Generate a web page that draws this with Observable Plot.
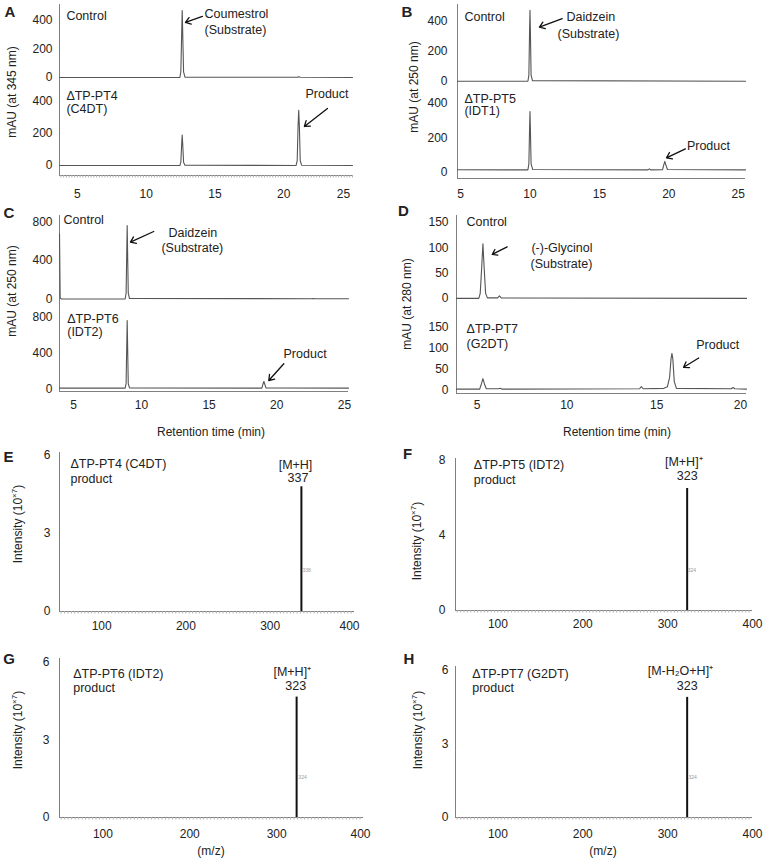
<!DOCTYPE html>
<html><head><meta charset="utf-8">
<script src="https://cdn.jsdelivr.net/npm/d3@7"></script>
<script src="https://cdn.jsdelivr.net/npm/@observablehq/plot@0.6"></script>
<style>
body{margin:0;background:#fff;}
#fig{position:relative;width:769px;height:864px;background:#fff;font-family:"Liberation Sans",Arial,sans-serif;color:#222;overflow:hidden}
.abs{position:absolute}
.lbl{position:absolute;transform:translate(-50%,-50%);white-space:nowrap;font-size:12px;line-height:1}
.rot{transform:translate(-50%,-50%) rotate(-90deg)}
.letter{font-weight:bold;font-size:15px}
sup{font-size:8px;vertical-align:5px;line-height:0}
</style></head><body><div id="fig"></div>
<script>
// ---------------- DATA ----------------
// Panel A: coumestrol, 345 nm  [time (min), mAU]
const aControl = [[3.7,0],[12.45,0],[12.52,40],[12.58,300],[12.62,470],[12.66,300],[12.72,40],[12.82,3],[21.0,2],[21.1,6],[21.2,2],[25,0]];
const aPT4 = [[3.7,0],[12.45,0],[12.52,20],[12.58,130],[12.62,190],[12.66,130],[12.72,20],[12.82,2],[20.9,0],[20.98,30],[21.04,240],[21.09,345],[21.14,240],[21.2,30],[21.3,2],[25,0]];
const aControlNotes = [{x:4.2,y:428,text:"Control"},{x:14.24,y:442,text:"Coumestrol"},{x:14.24,y:330,text:"(Substrate)"}];
const aPT4Notes = [{x:4.2,y:437,text:"ΔTP-PT4"},{x:4.2,y:350,text:"(C4DT)"},{x:21.58,y:444,text:"Product"}];
const aControlArrows = [{x1:14.09,y1:428,x2:12.86,y2:386}];
const aPT4Arrows = [{x1:23.18,y1:356,x2:21.5,y2:244}];

// Panel B: daidzein, 250 nm
const bControl = [[4.78,0],[9.85,0],[9.92,40],[9.97,330],[10.0,470],[10.03,330],[10.08,40],[10.18,4],[25.52,0]];
const bPT5 = [[4.78,16],[9.85,15],[9.92,50],[9.97,250],[10.0,354],[10.03,250],[10.08,50],[10.2,17],[18.5,15],[18.6,21],[18.7,15],[19.55,16],[19.62,40],[19.71,64],[19.8,40],[19.9,17],[25.52,15]];
const bControlNotes = [{x:5.28,y:422,text:"Control"},{x:12.63,y:422,text:"Daidzein"},{x:11.98,y:314,text:"(Substrate)"}];
const bPT5Notes = [{x:5.28,y:429,text:"ΔTP-PT5"},{x:5.28,y:354,text:"(IDT1)"},{x:21.3,y:151,text:"Product"}];
const bControlArrows = [{x1:12.32,y1:414,x2:10.68,y2:358}];
const bPT5Arrows = [{x1:21.19,y1:137,x2:19.83,y2:85}];

// Panel C: daidzein, 250 nm
const cControl = [[3.95,680],[4.0,10],[4.1,0],[8.8,0],[8.87,60],[8.92,500],[8.95,766],[8.98,500],[9.03,60],[9.12,5],[22.6,3],[22.7,6],[22.8,3],[25.3,3]];
const cPT6 = [[3.95,10],[8.8,10],[8.87,60],[8.92,500],[8.95,766],[8.98,500],[9.03,60],[9.12,12],[18.9,10],[18.97,50],[19.05,84],[19.12,50],[19.2,12],[25.3,10]];
const cControlNotes = [{x:4.25,y:818,text:"Control"},{x:12.0,y:685,text:"Daidzein"},{x:11.48,y:536,text:"(Substrate)"}];
const cPT6Notes = [{x:4.52,y:785,text:"ΔTP-PT6"},{x:4.52,y:635,text:"(IDT2)"},{x:20.5,y:386,text:"Product"}];
const cControlArrows = [{x1:10.91,y1:703,x2:9.19,y2:592}];
const cPT6Arrows = [{x1:20.52,y1:282,x2:19.41,y2:95}];

// Panel D: (-)-glycinol, 280 nm
const dControl = [[3.86,0],[5.1,0],[5.18,10],[5.26,60],[5.33,108],[5.4,60],[5.48,10],[5.58,1],[6.15,1],[6.25,5],[6.35,1],[20,0]];
const dPT7 = [[3.86,2],[5.15,2],[5.25,15],[5.33,27],[5.41,15],[5.52,3],[6.2,3],[6.3,4],[6.4,2],[14.05,3],[14.15,8],[14.25,3],[15.4,4],[15.6,8],[15.72,30],[15.8,74],[15.85,87],[15.9,74],[15.98,20],[16.1,4],[19.15,3],[19.25,6],[19.35,3],[20,2]];
const dControlNotes = [{x:4.42,y:151,text:"Control"},{x:8.03,y:100,text:"(-)-Glycinol"},{x:7.98,y:69,text:"(Substrate)"}];
const dPT7Notes = [{x:4.42,y:146,text:"ΔTP-PT7"},{x:4.42,y:110,text:"(G2DT)"},{x:17.2,y:108,text:"Product"}];
const dControlArrows = [{x1:6.68,y1:102,x2:5.85,y2:87}];
const dPT7Arrows = [{x1:17.34,y1:76,x2:16.5,y2:54}];

// Mass spectra: m/z, intensity (10^7)
const eSpectrum = [{mz:337, i:4.8}];
const fSpectrum = [{mz:323, i:6.5}];
const gSpectrum = [{mz:323, i:4.65}];
const hSpectrum = [{mz:323, i:4.9}];
const eNotes = [{x:63,y:5.68,text:"ΔTP-PT4 (C4DT)"},{x:63,y:5.1,text:"product"}];
const fNotes = [{x:71.6,y:7.73,text:"ΔTP-PT5 (IDT2)"},{x:71.6,y:6.97,text:"product"}];
const gNotes = [{x:65.8,y:5.53,text:"ΔTP-PT6 (IDT2)"},{x:65.8,y:4.99,text:"product"}];
const hNotes = [{x:69.7,y:5.87,text:"ΔTP-PT7 (G2DT)"},{x:69.7,y:5.28,text:"product"}];
const ePeakNotes = [{x:330,y:5.64,text:"[M+H]"},{x:333,y:5.12,text:"337"}];
const fPeakNotes = [{x:319,y:7.9,text:"[M+H]⁺"},{x:323,y:7.15,text:"323"}];
const gPeakNotes = [{x:318,y:5.6,text:"[M+H]⁺"},{x:322,y:5.06,text:"323"}];
const hPeakNotes = [{x:315,y:5.96,text:"[M-H₂O+H]⁺"},{x:323,y:5.38,text:"323"}];
const eTiny = [{x:338.3,y:1.58,text:"338"}];
const fTiny = [{x:323.6,y:2.13,text:"324"}];
const gTiny = [{x:325,y:1.56,text:"324"}];
const hTiny = [{x:324.6,y:1.64,text:"324"}];

// Tick labels
const ticksA = [5,10,15,20,25], ticksB = [5,10,15,20,25], ticksC = [5,10,15,20,25], ticksD = [5,10,15,20];
const yTicksAB = [0,200,400], yTicksC = [0,400,800], yTicksD = [0,50,100,150];
const mzTicks = [100,200,300,400];
const yTicks6 = [0,3,6], yTicks8 = [0,4,8];

// ---------------- DRAWING ----------------
const FONT = '"Liberation Sans", Arial, sans-serif';
const AX = "#808080", TR = "#555", TXT = "#222";
const NOTE = 12.5;
const fig = document.getElementById("fig");

function place(node, x, y) {
  const d = document.createElement("div");
  d.className = "abs"; d.style.left = x + "px"; d.style.top = y + "px";
  node.style.maxWidth = "none"; node.style.overflow = "visible";
  d.appendChild(node); fig.appendChild(d);
}
function html(text, x, y, cls) {
  const d = document.createElement("div");
  d.className = "lbl " + (cls || ""); d.style.left = x + "px"; d.style.top = y + "px";
  d.innerHTML = text; fig.appendChild(d);
}

function chart(c) {
  const ml = 45, mr = 10, mt = 4, mb = c.xTicks ? 30 : 2;
  const W = c.right - c.left, H = c.bottom - c.top;
  const marks = [];
  marks.push(Plot.ruleX([c.x[0]], {stroke: AX, strokeWidth: 1}));
  if (c.xTicks) marks.push(Plot.ruleY([c.y[0]], {stroke: AX, strokeWidth: 1}));
  if (c.minor) marks.push(Plot.axisX(c.minor, {anchor: "bottom", tickSize: 2.5, stroke: "#b0b0b0", tickFormat: () => "", label: null}));
  marks.push(Plot.axisY(c.yTicks, {anchor: "left", tickSize: 0, tickPadding: c.yPad, fontSize: 12, label: null, tickFormat: d => String(d)}));
  if (c.xTicks) {
    const main = c.lastDx ? c.xTicks.slice(0, -1) : c.xTicks;
    const pad = c.xOff - 4.3;
    marks.push(Plot.axisX(main, {anchor: "bottom", tickSize: 0, tickPadding: pad, fontSize: 12, label: null, tickFormat: d => String(d)}));
    if (c.lastDx) marks.push(Plot.axisX(c.xTicks.slice(-1), {anchor: "bottom", tickSize: 0, tickPadding: pad, dx: c.lastDx, fontSize: 12, label: null, tickFormat: d => String(d)}));
  }
  if (c.trace) marks.push(Plot.line(c.trace, {x: d => d[0], y: d => d[1], stroke: TR, strokeWidth: 1.1}));
  if (c.spectrum) marks.push(Plot.ruleX(c.spectrum, {x: "mz", y1: 0, y2: "i", stroke: "#111", strokeWidth: 2}));
  if (c.notes) marks.push(Plot.text(c.notes, {x: "x", y: "y", text: "text", textAnchor: "start", fontSize: NOTE, fill: TXT}));
  if (c.peakNotes) marks.push(Plot.text(c.peakNotes, {x: "x", y: "y", text: "text", textAnchor: "middle", fontSize: NOTE, fill: TXT}));
  if (c.tiny) marks.push(Plot.text(c.tiny, {x: "x", y: "y", text: "text", textAnchor: "start", fontSize: 5, fill: "#999"}));
  if (c.arrows) marks.push(Plot.arrow(c.arrows, {x1: "x1", y1: "y1", x2: "x2", y2: "y2", stroke: "#111", strokeWidth: 1.3, headLength: 7, headAngle: 70}));
  const svg = Plot.plot({
    width: W + ml + mr, height: H + mt + mb,
    marginLeft: ml, marginRight: mr, marginTop: mt, marginBottom: mb,
    x: {domain: c.x, axis: null}, y: {domain: c.y, axis: null},
    style: {fontFamily: FONT, fontSize: "12px", color: TXT, background: "transparent", overflow: "visible"},
    marks
  });
  place(svg, c.left - ml, c.top - mt);
}

const minorA = d3.range(3.8, 25.01, 0.2);
const minorMZ = d3.range(52, 400, 4);

// A
chart({left:59,right:352,top:4,bottom:88,x:[3.7,25],y:[-77,512],yTicks:yTicksAB,yPad:7,trace:aControl,notes:aControlNotes,arrows:aControlArrows});
chart({left:59,right:352,top:88,bottom:175,x:[3.7,25],y:[-62.5,481],yTicks:yTicksAB,yPad:7,trace:aPT4,notes:aPT4Notes,arrows:aPT4Arrows,xTicks:ticksA,lastDx:-9,xOff:18,minor:minorA});
// B
chart({left:457,right:745,top:4,bottom:88,x:[4.78,25.52],y:[-48,508],yTicks:yTicksAB,yPad:10,trace:bControl,notes:bControlNotes,arrows:bControlArrows});
chart({left:457,right:745,top:88,bottom:178,x:[4.78,25.52],y:[-35,487],yTicks:yTicksAB,yPad:10,trace:bPT5,notes:bPT5Notes,arrows:bPT5Arrows,xTicks:ticksB,xOff:15});
// C
chart({left:59,right:348,top:215,bottom:303,x:[3.95,25.3],y:[-47,870],yTicks:yTicksC,yPad:7,trace:cControl,notes:cControlNotes,arrows:cControlArrows});
chart({left:59,right:348,top:303,bottom:391,x:[3.95,25.3],y:[-28,956],yTicks:yTicksC,yPad:7,trace:cPT6,notes:cPT6Notes,arrows:cPT6Arrows,xTicks:ticksC,xOff:13});
// D
chart({left:456,right:746,top:215,bottom:305,x:[3.86,20],y:[-14,164],yTicks:yTicksD,yPad:8,trace:dControl,notes:dControlNotes,arrows:dControlArrows});
chart({left:456,right:746,top:305,bottom:393,x:[3.86,20],y:[-8.3,201],yTicks:yTicksD,yPad:8,trace:dPT7,notes:dPT7Notes,arrows:dPT7Arrows,xTicks:ticksD,lastDx:-6,xOff:11});
// E-H
chart({left:59,right:354,top:452,bottom:611,x:[50,400],y:[0,6.12],yTicks:yTicks6,yPad:9,spectrum:eSpectrum,notes:eNotes,peakNotes:ePeakNotes,tiny:eTiny,xTicks:mzTicks,lastDx:-5,xOff:14,minor:minorMZ});
chart({left:455,right:752,top:458,bottom:610,x:[50,400],y:[0,8.1],yTicks:yTicks8,yPad:10,spectrum:fSpectrum,notes:fNotes,peakNotes:fPeakNotes,tiny:fTiny,xTicks:mzTicks,xOff:13.5,minor:minorMZ});
chart({left:59,right:363,top:658,bottom:817,x:[50,400],y:[0,6.14],yTicks:yTicks6,yPad:10,spectrum:gSpectrum,notes:gNotes,peakNotes:gPeakNotes,tiny:gTiny,xTicks:mzTicks,lastDx:-3,xOff:16,minor:minorMZ});
chart({left:455,right:752,top:666,bottom:817,x:[50,400],y:[0,6.16],yTicks:yTicks6,yPad:7,spectrum:hSpectrum,notes:hNotes,peakNotes:hPeakNotes,tiny:hTiny,xTicks:mzTicks,xOff:16,minor:minorMZ});

// Panel letters
[["A",10,11],["B",407,11],["C",9,212],["D",403.5,210],["E",8.5,456],["F",407.5,453],["G",9,658],["H",409,657.5]]
  .forEach(([t,x,y]) => html(t, x, y, "letter"));
// Axis titles
html("mAU (at 345 nm)", 12, 92, "rot");
html("mAU (at 250 nm)", 414, 87, "rot");
html("mAU (at 250 nm)", 12, 291, "rot");
html("mAU (at 280 nm)", 407, 304, "rot");
html("Retention time (min)", 211, 432);
html("Retention time (min)", 617, 432);
const intensity = "Intensity (10<sup>×7</sup>)";
html(intensity, 18, 524, "rot");
html(intensity, 417, 541, "rot");
html(intensity, 18, 730, "rot");
html(intensity, 418, 730, "rot");
html("(m/z)", 211, 851);
html("(m/z)", 603, 851);
</script></body></html>
